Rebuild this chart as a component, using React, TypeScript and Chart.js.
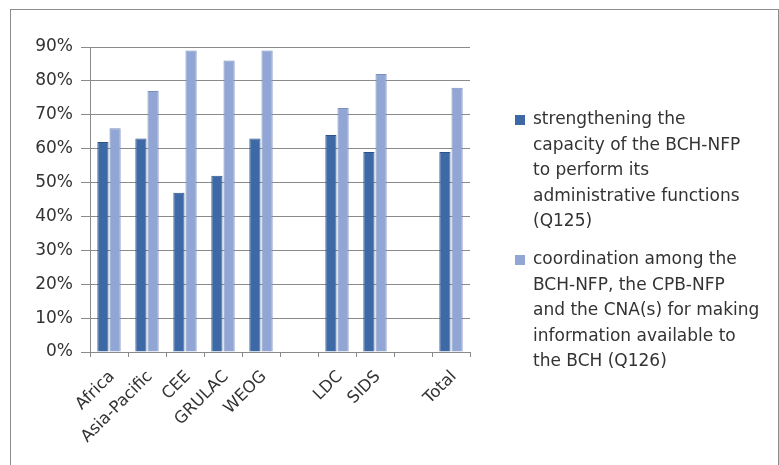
import React, { useEffect, useRef } from "react";
import { Chart, registerables } from "chart.js";

Chart.register(...registerables);

const categories = ["Africa", "Asia-Pacific", "CEE", "GRULAC", "WEOG", "", "LDC", "SIDS", "", "Total"];
const capacityValues = [62, 63, 47, 52, 63, null, 64, 59, null, 59];
const coordinationValues = [66, 77, 89, 86, 89, null, 72, 82, null, 78];
const capacityLegend = [
  "strengthening the",
  "capacity of the BCH-NFP",
  "to perform its",
  "administrative functions",
  "(Q125)",
];
const coordinationLegend = [
  "coordination among the",
  "BCH-NFP, the CPB-NFP",
  "and the CNA(s) for making",
  "information available to",
  "the BCH (Q126)",
];
const yTicks = [0, 10, 20, 30, 40, 50, 60, 70, 80, 90];

const FONT = "'DejaVu Sans', sans-serif";
const TEXT = "#333333";

const legendPlugin = {
  id: "wrappedLegend",
  afterDraw(chart: any) {
    const ctx = chart.ctx;
    const groups = [capacityLegend, coordinationLegend];
    const boxX = 515;
    const textX = 533;
    const lineH = 25.5;
    const starts = [120, 260];
    ctx.save();
    ctx.font = `17px ${FONT}`;
    ctx.textBaseline = "middle";
    ctx.textAlign = "left";
    groups.forEach((lines, i) => {
      const ds = chart.data.datasets[i];
      const y = starts[i];
      ctx.fillStyle = ds.backgroundColor;
      ctx.fillRect(boxX, y - 5, 10, 10);
      ctx.fillStyle = TEXT;
      lines.forEach((ln, j) => {
        ctx.fillText(ln, textX, y + j * lineH);
      });
    });
    ctx.restore();
  },
};

export default function App() {
  const ref = useRef<HTMLCanvasElement | null>(null);
  useEffect(() => {
    if (!ref.current) return;
    const chart = new Chart(ref.current, {
      type: "bar",
      data: {
        labels: categories,
        datasets: [
          {
            label: capacityLegend.join(" "),
            data: capacityValues as any,
            backgroundColor: "#3D6AA7",
            borderColor: "#2c5288",
            borderWidth: 1,
            categoryPercentage: 0.64,
            barPercentage: 0.92,
          },
          {
            label: coordinationLegend.join(" "),
            data: coordinationValues as any,
            backgroundColor: "#91A6D4",
            borderColor: "#7b8fbd",
            borderWidth: 1,
            categoryPercentage: 0.64,
            barPercentage: 0.92,
          },
        ],
      },
      options: {
        responsive: false,
        animation: false,
        layout: { padding: { left: 0, right: 309, top: 47, bottom: 0 } },
        plugins: {
          legend: { display: false },
          tooltip: { enabled: false },
        },
        scales: {
          y: {
            min: 0,
            max: 90,
            afterFit: (s: any) => {
              s.width = 90;
            },
            afterBuildTicks: (s: any) => {
              s.ticks = yTicks.map((v) => ({ value: v }));
            },
            ticks: {
              callback: (v: any) => v + "%",
              color: TEXT,
              font: { family: FONT, size: 17 },
              padding: 8,
            },
            grid: { color: "#8a8a8a", lineWidth: 1, tickLength: 9 },
            border: { color: "#8a8a8a" },
          },
          x: {
            afterFit: (s: any) => {
              s.height = 113;
            },
            ticks: {
              color: TEXT,
              font: { family: FONT, size: 16.5 },
              minRotation: 45,
              maxRotation: 45,
              autoSkip: false,
              padding: 10,
              labelOffset: 3,
            },
            grid: { drawOnChartArea: false, offset: true, tickLength: 5, color: "#8a8a8a" },
            border: { color: "#8a8a8a" },
          },
        },
      },
      plugins: [legendPlugin],
    });
    return () => chart.destroy();
  }, []);
  return (
    <div style={{ position: "fixed", left: 0, top: 0, width: 779, height: 465, background: "#fff" }}>
      <div
        style={{
          position: "absolute",
          left: 10,
          top: 9,
          width: 769,
          height: 460,
          borderLeft: "1px solid #8c8c8c",
          borderTop: "1px solid #8c8c8c",
          borderRight: "1px solid #8c8c8c",
          boxSizing: "border-box",
        }}
      />
      <canvas ref={ref} width={779} height={465} style={{ position: "absolute", left: 0, top: 0 }} />
    </div>
  );
}
